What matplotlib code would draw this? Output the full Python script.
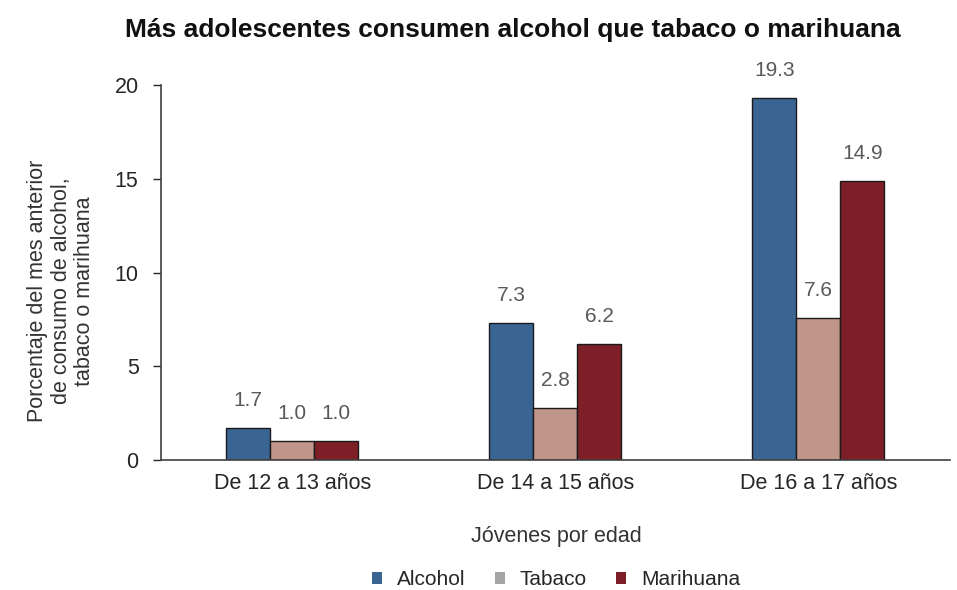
import matplotlib.pyplot as plt
import numpy as np
from matplotlib.patches import Patch

plt.rcParams['font.family'] = ['Liberation Sans', 'DejaVu Sans']

grupos = ['De 12 a 13 años', 'De 14 a 15 años', 'De 16 a 17 años']
series = ['Alcohol', 'Tabaco', 'Marihuana']
alcohol = [1.7, 7.3, 19.3]
tabaco = [1.0, 2.8, 7.6]
marihuana = [1.0, 6.2, 14.9]

colores = ['#3a6592', '#c0968a', '#7e1f27']
colores_leyenda = ['#3a6592', '#a4a4a4', '#7e1f27']

fig = plt.figure(figsize=(9.57, 5.90), dpi=100)
ax = fig.add_axes([0.168, 0.2203, 0.8245, 0.6356])

x = np.arange(len(grupos))
ancho = 0.167
for k, (vals, col) in enumerate(zip([alcohol, tabaco, marihuana], colores)):
    pos = x + (k - 1) * ancho
    ax.bar(pos, vals, width=ancho, color=col, edgecolor='#1a1a1a', linewidth=1.0, zorder=2)
    for p, v in zip(pos, vals):
        ax.text(p, v + 0.95, f'{v:.1f}', ha='center', va='bottom', fontsize=15, color='#595959')

ax.set_ylim(0, 20)
ax.set_xlim(-0.5, 2.5)
ax.set_yticks([0, 5, 10, 15, 20])
ax.set_xticks(x)
ax.set_xticklabels(grupos)
ax.tick_params(axis='x', length=0, labelsize=15.5, pad=9, colors='#262626')
ax.tick_params(axis='y', length=6, labelsize=15.5, pad=10, colors='#262626', width=1)

for s in ['top', 'right']:
    ax.spines[s].set_visible(False)
ax.spines['left'].set_color('#404040')
ax.spines['bottom'].set_color('#404040')
ax.spines['left'].set_linewidth(1.2)
ax.spines['bottom'].set_linewidth(1.2)

fig.text(0.064, 0.507, 'Porcentaje del mes anterior\nde consumo de alcohol,\ntabaco o marihuana',
         rotation=90, ha='center', va='center', multialignment='center',
         fontsize=15.5, color='#333333', linespacing=1.15)
fig.text(0.581, 0.09, 'Jóvenes por edad', ha='center', va='center',
         fontsize=15.5, color='#333333')

fig.text(0.536, 0.949, 'Más adolescentes consumen alcohol que tabaco o marihuana',
         ha='center', va='center', fontsize=19, fontweight='bold', color='#111111')

handles = [Patch(facecolor=c, edgecolor='none') for c in colores_leyenda]
fig.legend(handles, series, loc='center', bbox_to_anchor=(0.581, 0.017),
           ncol=3, frameon=False, fontsize=15, handlelength=0.5, handleheight=0.5,
           handletextpad=0.7, columnspacing=1.4, borderpad=0, labelcolor='#262626')

fig.savefig('out.png', dpi=100)
